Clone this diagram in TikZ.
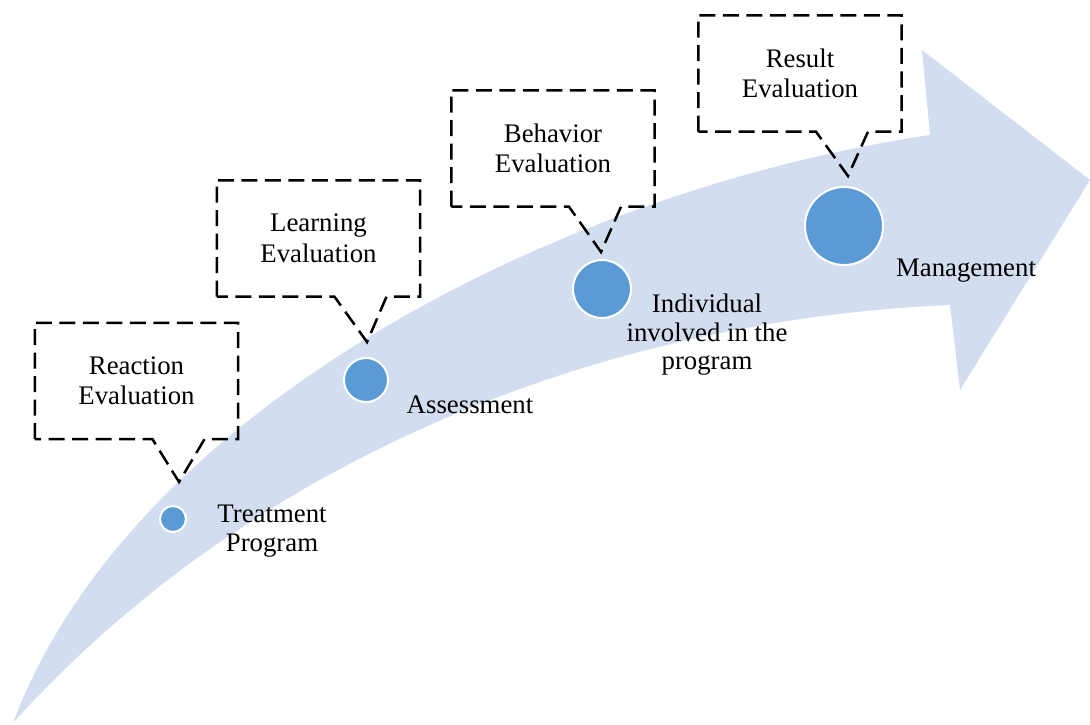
\documentclass[tikz,border=0pt]{standalone}
\usepackage{fontspec}
\setmainfont{Liberation Serif}
\definecolor{arrowblue}{RGB}{210,222,239}
\definecolor{dotblue}{RGB}{91,155,213}
\begin{document}
\begin{tikzpicture}[x=1pt,y=-1pt,
  dot/.style={circle,fill=dotblue,draw=white,line width=2pt,inner sep=0pt},
  callout/.style={draw=black,line width=2.5pt,dash pattern=on 16pt off 7.5pt},
  cbox/.style={rectangle,minimum width=203pt,minimum height=116pt,align=center,font=\fontsize{26.8}{30.5}\selectfont,inner sep=0pt},
  lbl/.style={align=center,font=\fontsize{26.8}{28.5}\selectfont,inner sep=0pt}]
\useasboundingbox (0,0) rectangle (1090,725);
% big curved arrow
\fill[arrowblue] (13,723) .. controls (130,410) and (560,190) .. (930,135) -- (922,50) -- (1090,180) -- (960,390) -- (950,305) .. controls (600,320) and (250,460) .. (13,723) -- cycle;
% dots
\node[dot,minimum size=26pt] (d1) at (173,519) {};
\node[dot,minimum size=44pt] (d2) at (366,380) {};
\node[dot,minimum size=58pt] (d3) at (602,289) {};
\node[dot,minimum size=78pt] (d4) at (844,226) {};
% labels
\node[lbl] (l1) at (272,531) {Treatment\\Program};
\node[lbl] (l2) at (470,405) {Assessment};
\node[lbl] (l3) at (707,335) {Individual\\involved in the\\program};
\node[lbl] (l4) at (966,271) {Management};
% callout boxes
\node[cbox] (b1) at (136.5,381) {Reaction\\Evaluation};
\node[cbox] (b2) at (318.5,238.5) {Learning\\Evaluation};
\node[cbox] (b3) at (553,148.5) {Behavior\\Evaluation};
\node[cbox] (b4) at (800,73.5) {Result\\Evaluation};
\coordinate (t1) at (179,482);
\coordinate (t2) at (367,342);
\coordinate (t3) at (601,252);
\coordinate (t4) at (848,176);
\draw[callout] (b1.south west) -- (b1.north west) -- (b1.north east) -- (b1.south east) -- ([xshift=68pt]b1.south) -- (t1) -- ([xshift=16pt]b1.south) -- cycle;
\draw[callout] (b2.south west) -- (b2.north west) -- (b2.north east) -- (b2.south east) -- ([xshift=68pt]b2.south) -- (t2) -- ([xshift=16pt]b2.south) -- cycle;
\draw[callout] (b3.south west) -- (b3.north west) -- (b3.north east) -- (b3.south east) -- ([xshift=68pt]b3.south) -- (t3) -- ([xshift=16pt]b3.south) -- cycle;
\draw[callout] (b4.south west) -- (b4.north west) -- (b4.north east) -- (b4.south east) -- ([xshift=68pt]b4.south) -- (t4) -- ([xshift=16pt]b4.south) -- cycle;
\end{tikzpicture}
\end{document}
